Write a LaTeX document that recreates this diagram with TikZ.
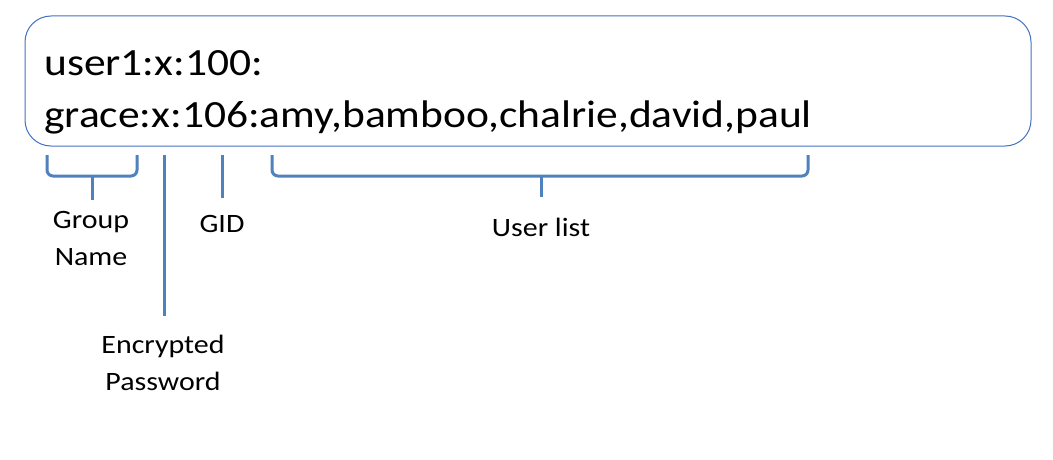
\documentclass[tikz,border=0pt]{standalone}
\usepackage{fontspec}
\setmainfont{Carlito}[FakeStretch=1.13]
\definecolor{boxblue}{RGB}{68,114,196}
\definecolor{braceblue}{RGB}{79,129,189}
\begin{document}
\begin{tikzpicture}[x=1pt,y=-1pt,
  mainline/.style={anchor=base west, inner sep=0pt, font=\fontsize{38.5}{44}\selectfont},
  label/.style={inner sep=0pt, align=center, font=\fontsize{26.5}{37}\selectfont},
  bracket/.style={draw=braceblue, line width=3pt, rounded corners=6pt},
  tick/.style={draw=braceblue, line width=3pt}]
\useasboundingbox (0,0) rectangle (1053,460);
\fill[white] (0,0) rectangle (1053,460);
\node[draw=boxblue, line width=1pt, rounded corners=26pt, minimum width=1006pt,
      minimum height=130pt, inner sep=0pt] (box) at (528,81) {};
\node[mainline] (l1) at (44,76) {user1:x:100:};
\node[mainline] (l2) at (44,128) {grace:x:106:amy,bamboo,chalrie,david,paul};

% labels (base = baseline of the last line)
\node[label, anchor=base] (gname) at (91,265) {Group\\Name};
\node[label, anchor=base] (enc) at (163,390) {Encrypted\\Password};
\node[label, anchor=base] (gid) at (222,232) {GID};
\node[label, anchor=base] (ulist) at (541,236) {User list};

% group name bracket
\coordinate (gnA) at (47,155);
\coordinate (gnB) at (137,155);
\coordinate (gnM) at (92,176);
\coordinate (gnS) at (92,200);
\draw[bracket] (gnA) -- (47,176) -- (137,176) -- (gnB);
\draw[tick] (gnM) -- (gnS);

% encrypted password line
\coordinate (encA) at (164,155);
\coordinate (encB) at (164,316);
\draw[tick] (encA) -- (encB);

% GID line
\coordinate (gidA) at (222,155);
\coordinate (gidB) at (222,198);
\draw[tick] (gidA) -- (gidB);

% user list bracket
\coordinate (ulA) at (272,155);
\coordinate (ulB) at (808,155);
\coordinate (ulM) at (541,176);
\coordinate (ulS) at (541,197);
\draw[bracket] (ulA) -- (272,176) -- (808,176) -- (ulB);
\draw[tick] (ulM) -- (ulS);
\end{tikzpicture}
\end{document}
